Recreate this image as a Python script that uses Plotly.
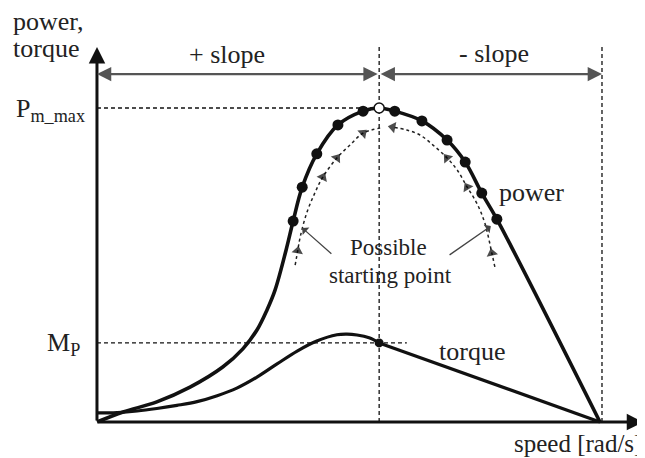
import plotly.graph_objects as go

# ---------------- data (speed: 0..100 = no-load speed, power: 0..100 = P_m_max) ----
power_speed = [0, 5.2, 11.9, 18.5, 25.0, 29.0, 31.8, 33.8, 35.4, 37.6, 39.0, 40.8, 43.7,
               47.9, 52.9, 56.1, 59.2, 64.6, 69.6, 73.2, 76.5, 79.5, 100]
power_value = [0, 3.2, 6.4, 11.1, 17.5, 23.3, 29.3, 35.7, 42.0, 54.8, 64.0, 74.8, 85.4,
               94.6, 99.0, 100, 99.0, 95.9, 89.8, 82.8, 72.9, 64.6, 0]
power_dot_idx = [10, 11, 12, 13, 14, 16, 17, 18, 19, 20, 21]
power_peak_idx = 15

torque_speed = [0, 4.0, 8.0, 11.9, 15.9, 19.9, 23.9, 27.8, 31.8, 35.8, 39.8, 43.7,
                47.7, 49.7, 51.7, 54.1, 56.1, 100]
torque_value = [2.9, 3.0, 3.5, 4.3, 5.3, 6.5, 8.4, 10.8, 14.3, 18.5, 22.6, 25.8,
                27.8, 28.0, 27.7, 26.8, 25.2, 0]

# tracking paths (dotted) from possible starting points towards the maximum
left_speed = [39.4, 39.9, 40.4, 41.7, 43.3, 44.9, 47.7, 50.3, 52.9, 56.3]
left_value = [50.0, 54.5, 58.9, 66.6, 72.9, 78.0, 84.1, 88.2, 92.0, 93.6]
left_arrow_idx = [1, 5, 6, 8]
right_speed = [79.1, 78.5, 77.1, 75.5, 73.6, 71.6, 69.6, 66.8, 64.2, 61.6, 58.8]
right_value = [49.4, 53.8, 63.4, 69.7, 74.8, 80.3, 84.1, 88.2, 91.4, 93.0, 93.9]
right_arrow_idx = [1, 4, 6, 10]

# the page places the figure 8px in from the top-left corner
x_range = [-17.69, 108.95]
y_range = [-11.46, 131.85]
axis_top = 119.4
axis_right = 108.6
bracket_level = 110.8
dash_top = 120.1
mp_dash_end = 61.6
end_marker_speed = 100.4

FONT = "Liberation Serif, Times New Roman, serif"
INK = "#111"

fig = go.Figure()

# power curve
fig.add_trace(go.Scatter(x=power_speed, y=power_value, mode="lines",
                         line=dict(color=INK, width=3.6, shape="spline", smoothing=1.0,
                                   simplify=False),
                         hoverinfo="skip"))
# torque curve: smooth part then straight part
k = torque_speed.index(56.1)
fig.add_trace(go.Scatter(x=torque_speed[:k + 1], y=torque_value[:k + 1], mode="lines",
                         line=dict(color=INK, width=3.2, shape="spline", smoothing=1.0,
                                   simplify=False),
                         hoverinfo="skip"))
fig.add_trace(go.Scatter(x=torque_speed[k:], y=torque_value[k:], mode="lines",
                         line=dict(color=INK, width=3.2), hoverinfo="skip"))

# dotted tracking paths with arrow heads
for sx, sy, idx in [(left_speed, left_value, left_arrow_idx),
                    (right_speed, right_value, right_arrow_idx)]:
    sizes = [10 if i in idx else 0 for i in range(len(sx))]
    fig.add_trace(go.Scatter(x=sx, y=sy, mode="lines+markers",
                             line=dict(color="#222", width=1.5, dash="dot", shape="spline",
                                       simplify=False),
                             marker=dict(symbol="triangle-up", size=sizes, color="black",
                                         angleref="previous", line=dict(width=0)),
                             hoverinfo="skip"))

# dots on power curve
fig.add_trace(go.Scatter(x=[power_speed[i] for i in power_dot_idx],
                         y=[power_value[i] for i in power_dot_idx], mode="markers",
                         marker=dict(color=INK, size=11), hoverinfo="skip"))
fig.add_trace(go.Scatter(x=[power_speed[power_peak_idx]], y=[power_value[power_peak_idx]],
                         mode="markers",
                         marker=dict(color="white", size=10, line=dict(color=INK, width=1.5)),
                         hoverinfo="skip"))
# dot on torque curve
fig.add_trace(go.Scatter(x=[torque_speed[k]], y=[torque_value[k]], mode="markers",
                         marker=dict(color=INK, size=9), hoverinfo="skip"))

peak_speed = power_speed[power_peak_idx]
peak_power = power_value[power_peak_idx]
mp = torque_value[k]

dash = dict(color=INK, width=1.3, dash="4px,3px")
shapes = [
    dict(type="line", xref="x", yref="y", x0=peak_speed, x1=peak_speed, y0=0, y1=dash_top, line=dash, layer="below"),
    dict(type="line", xref="x", yref="y", x0=end_marker_speed, x1=end_marker_speed, y0=0, y1=dash_top, line=dash, layer="below"),
    dict(type="line", xref="x", yref="y", x0=0, x1=peak_speed, y0=peak_power, y1=peak_power, line=dash, layer="below"),
    dict(type="line", xref="x", yref="y", x0=0, x1=mp_dash_end, y0=mp, y1=mp, line=dash, layer="below"),
]

ann = []
# axes with arrows
ann.append(dict(x=0, y=axis_top, ax=0, ay=0, xref="x", yref="y", axref="x", ayref="y",
                text="", showarrow=True, arrowhead=2, arrowsize=1.1, arrowwidth=3, arrowcolor=INK))
ann.append(dict(x=axis_right, y=0, ax=0, ay=0, xref="x", yref="y", axref="x", ayref="y",
                text="", showarrow=True, arrowhead=2, arrowsize=1.1, arrowwidth=3, arrowcolor=INK))
# slope brackets
for a, b in [(0, peak_speed), (end_marker_speed, peak_speed)]:
    ann.append(dict(x=a, y=bracket_level, ax=b, ay=bracket_level, xref="x", yref="y",
                    axref="x", ayref="y", text="", showarrow=True, arrowside="end+start",
                    arrowhead=2, arrowsize=1.3, arrowwidth=2.2, arrowcolor="#555"))
# pointers to possible starting points
for tip_x, tip_y, tail_x, tail_y in [(40.8, 61.8, 46.9, 53.2), (78.3, 62.4, 69.8, 52.9)]:
    ann.append(dict(x=tip_x, y=tip_y, ax=tail_x, ay=tail_y, xref="x", yref="y",
                    axref="x", ayref="y", text="", showarrow=True, arrowhead=1,
                    arrowsize=1.3, arrowwidth=1.3, arrowcolor="#444"))


def label(x, y, text, size=26, xanchor="center", yanchor="middle"):
    ann.append(dict(x=x, y=y, xref="x", yref="y", text=text, showarrow=False,
                    xanchor=xanchor, yanchor=yanchor, borderpad=0,
                    font=dict(family=FONT, size=size, color="#222")))


label(-16.9, 127.6, "power,", xanchor="left")
label(-16.9, 119.1, "torque", xanchor="left")
label(25.8, 117.0, "+ slope")
label(78.9, 117.5, "- slope")
label(-2.2, 99.4, "P<sub>m_max</sub>", xanchor="right")
label(-3.2, 24.8, "M<sub>P</sub>", xanchor="right")
label(79.7, 73.0, "power", xanchor="left")
label(67.8, 22.6, "torque", xanchor="left")
label(108.6, -11.3, "speed [rad/s]", size=25, xanchor="right", yanchor="bottom")
label(57.9, 55.7, "Possible", size=23)
label(58.4, 46.8, "starting point", size=23)

fig.update_layout(
    width=637, height=450, autosize=False,
    margin=dict(l=0, r=0, t=0, b=0),
    paper_bgcolor="white", plot_bgcolor="white",
    showlegend=False,
    xaxis=dict(range=x_range, visible=False, fixedrange=True),
    yaxis=dict(range=y_range, visible=False, fixedrange=True),
    shapes=shapes, annotations=ann,
)

fig.write_html("out.html")
